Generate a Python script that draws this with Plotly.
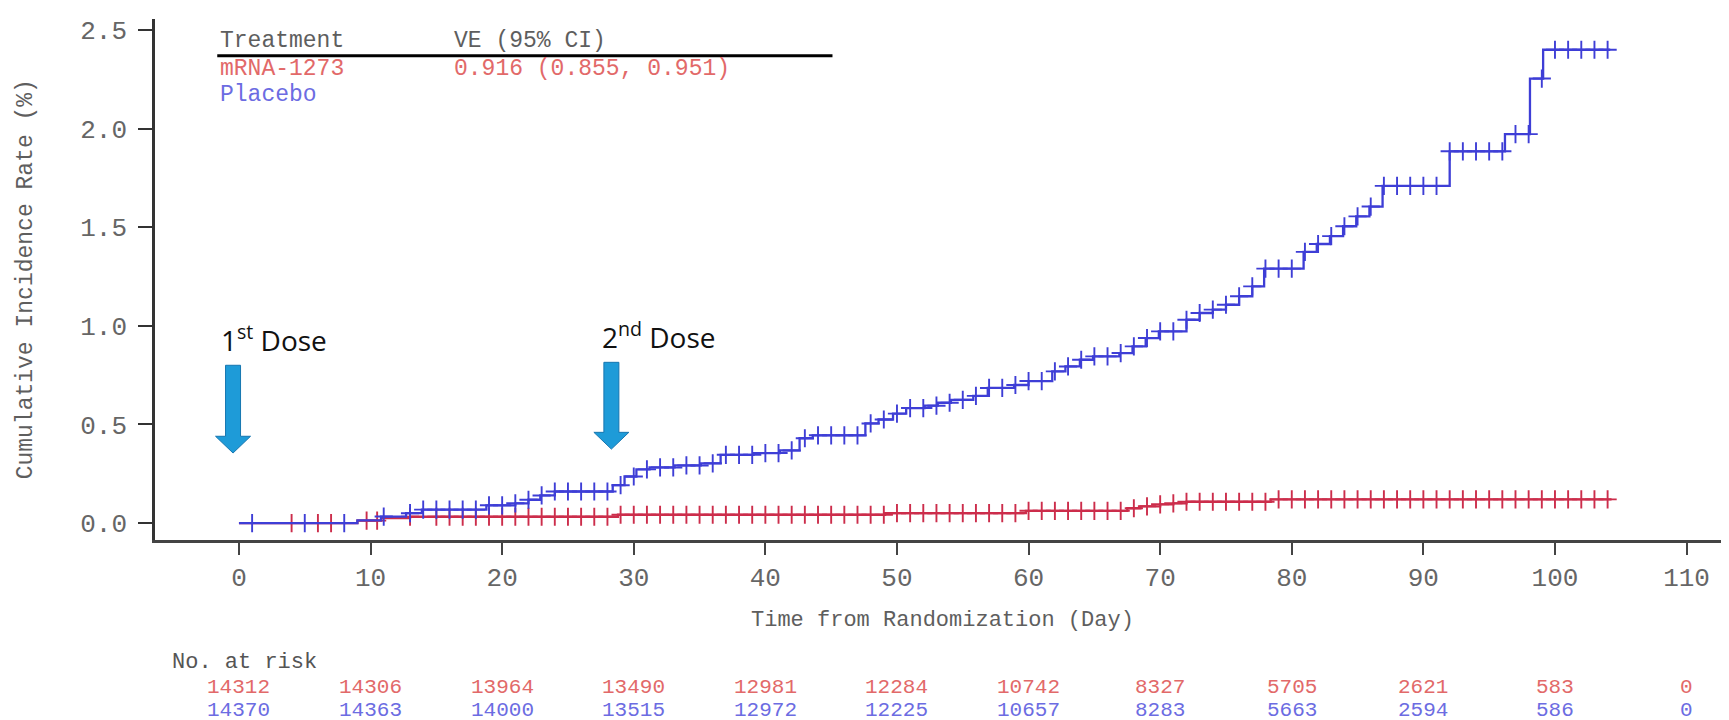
import bisect
import plotly.graph_objects as go

# ---------------- data ----------------
placebo_step_day = [0, 9, 10.8, 12.7, 13.9, 18.8, 21, 22, 22.9, 24, 28.4, 29.3, 30.2, 31.2, 33.1,
                    35.1, 36.6, 39.1, 41.1, 42.6, 43.6, 47.6, 48.6, 49.7, 50.7, 52.1, 53.1, 54.1,
                    55.8, 56.9, 58.9, 60.0, 61.8, 62.8, 63.9, 64.9, 66.9, 67.9, 68.9, 69.9, 72.0,
                    73.0, 74.0, 75.0, 76.0, 77.0, 77.9, 80.9, 81.9, 82.9, 83.9, 84.9, 85.9, 86.9,
                    92.0, 96.2, 98.1, 99.1]
placebo_step_val = [0, 0.014, 0.033, 0.05, 0.068, 0.09, 0.10, 0.118, 0.14, 0.16, 0.192, 0.236,
                    0.272, 0.282, 0.292, 0.303, 0.346, 0.355, 0.368, 0.43, 0.445, 0.505, 0.525,
                    0.555, 0.583, 0.595, 0.61, 0.625, 0.645, 0.685, 0.70, 0.72, 0.769, 0.794,
                    0.828, 0.845, 0.862, 0.896, 0.938, 0.972, 1.031, 1.065, 1.082, 1.107, 1.15,
                    1.2, 1.29, 1.375, 1.415, 1.455, 1.505, 1.555, 1.605, 1.71, 1.885, 1.972,
                    2.254, 2.40]
placebo_last_day = 104.2

mrna_step_day = [0, 9, 10.8, 13, 28.8, 49.1, 59.8, 67.5, 68.5, 70, 71, 72, 78.4]
mrna_step_val = [0, 0.012, 0.025, 0.032, 0.042, 0.05, 0.062, 0.075, 0.085, 0.095, 0.10, 0.108, 0.12]
mrna_last_day = 104.3

placebo_censor_day = [1, 5, 8, 11, 13, 14, 15, 16, 17, 18, 19, 20, 21, 22, 23, 24, 25, 26, 27, 28,
                      29, 30, 31, 32, 33, 34, 35, 36, 37, 38, 39, 40, 41, 42, 43, 44, 45, 46, 47,
                      48, 49, 50, 51, 52, 53, 54, 55, 56, 57, 58, 59, 60, 61, 62, 63, 64, 65, 66,
                      67, 68, 69, 70, 71, 72, 73, 74, 75, 76, 77, 78, 79, 80, 81, 82, 83, 84, 85,
                      86, 87, 88, 89, 90, 91, 92, 93, 94, 95, 96, 97, 98, 99, 100, 101, 102, 103, 104]
mrna_censor_day = [4, 6, 7, 9.7, 10.5, 13, 15, 16, 17, 18, 19, 20, 21, 22, 23, 24, 25, 26, 27, 28,
                   29, 30, 31, 32, 33, 34, 35, 36, 37, 38, 39, 40, 41, 42, 43, 44, 45, 46, 47, 48,
                   49, 50, 51, 52, 53, 54, 55, 56, 57, 58, 59, 60, 61, 62, 63, 64, 65, 66, 67, 68,
                   69, 70, 71, 72, 73, 74, 75, 76, 77, 78, 79, 80, 81, 82, 83, 84, 85, 86, 87, 88,
                   89, 90, 91, 92, 93, 94, 95, 96, 97, 98, 99, 100, 101, 102, 103, 104]

risk_days = [0, 10, 20, 30, 40, 50, 60, 70, 80, 90, 100, 110]
mrna_at_risk = [14312, 14306, 13964, 13490, 12981, 12284, 10742, 8327, 5705, 2621, 583, 0]
placebo_at_risk = [14370, 14363, 14000, 13515, 12972, 12225, 10657, 8283, 5663, 2594, 586, 0]

x_ticks = [0, 10, 20, 30, 40, 50, 60, 70, 80, 90, 100, 110]
y_ticks = [0.0, 0.5, 1.0, 1.5, 2.0, 2.5]
y_tick_text = ["0.0", "0.5", "1.0", "1.5", "2.0", "2.5"]

treatments = ["mRNA-1273", "Placebo"]
ve_text = "0.916 (0.855, 0.951)"

dose_day = [-0.45, 28.3]
dose_label = ["1<sup>st</sup> Dose", "2<sup>nd</sup> Dose"]

# ---------------- styles ----------------
RED = "rgb(204,45,75)"
BLUE = "rgb(62,62,214)"
RED_TXT = "rgb(226,105,105)"
BLUE_TXT = "rgb(108,108,226)"
MONO = "Liberation Mono, Courier New, monospace"
GREY = "#5e5e5e"
ARROW_FILL = "#1e9bd8"
ARROW_EDGE = "#1676b0"


def step_value(days, vals, d):
    i = bisect.bisect_right(days, d) - 1
    return vals[max(i, 0)]


fig = go.Figure()

for days, vals, last, cens, col, name in [
    (mrna_step_day, mrna_step_val, mrna_last_day, mrna_censor_day, RED, treatments[0]),
    (placebo_step_day, placebo_step_val, placebo_last_day, placebo_censor_day, BLUE, treatments[1]),
]:
    fig.add_trace(go.Scatter(
        x=days + [last], y=vals + [vals[-1]], mode="lines",
        line=dict(color=col, width=2.3, shape="hv"), name=name, showlegend=False,
        hoverinfo="skip"))
    fig.add_trace(go.Scatter(
        x=cens, y=[step_value(days, vals, d) for d in cens], mode="markers",
        marker=dict(symbol="cross-thin", size=13, line=dict(color=col, width=1.9)),
        showlegend=False, hoverinfo="skip"))

# ---------------- dose arrows ----------------
px_per_day = 13.16
shaft_hw = 7.5 / px_per_day
head_hw = 17.5 / px_per_day
arrow_top = [0.80, 0.815]
arrow_head = [0.44, 0.46]
arrow_tip = [0.355, 0.375]
shapes = []
for d, top, hd, tip in zip(dose_day, arrow_top, arrow_head, arrow_tip):
    path = (f"M {d - shaft_hw} {top} L {d + shaft_hw} {top} L {d + shaft_hw} {hd} "
            f"L {d + head_hw} {hd} L {d} {tip} L {d - head_hw} {hd} L {d - shaft_hw} {hd} Z")
    shapes.append(dict(type="path", path=path, xref="x", yref="y",
                       fillcolor=ARROW_FILL, line=dict(color=ARROW_EDGE, width=1)))

label_y = [0.935, 0.95]
label_x = [-1.5, 27.4]
annotations = []
for lx, ly, t in zip(label_x, label_y, dose_label):
    annotations.append(dict(x=lx, y=ly, xref="x", yref="y", text=t, showarrow=False,
                            xanchor="left", yanchor="middle",
                            font=dict(family="Open Sans, Noto Sans, sans-serif", size=28,
                                      color="#111111")))

# ---------------- legend block ----------------
shapes.append(dict(type="line", xref="x", yref="y", x0=-1.65, x1=45.1, y0=2.37, y1=2.37,
                   line=dict(color="black", width=3)))
leg_font = dict(family=MONO, size=23)
annotations += [
    dict(x=-1.63, y=2.445, xref="x", yref="y", text="Treatment", showarrow=False,
         xanchor="left", yanchor="middle", font=dict(**leg_font, color=GREY)),
    dict(x=16.2, y=2.445, xref="x", yref="y", text="VE (95% CI)", showarrow=False,
         xanchor="left", yanchor="middle", font=dict(**leg_font, color=GREY)),
    dict(x=-1.63, y=2.3, xref="x", yref="y", text=treatments[0], showarrow=False,
         xanchor="left", yanchor="middle", font=dict(**leg_font, color=RED_TXT)),
    dict(x=16.2, y=2.3, xref="x", yref="y", text=ve_text, showarrow=False,
         xanchor="left", yanchor="middle", font=dict(**leg_font, color=RED_TXT)),
    dict(x=-1.63, y=2.17, xref="x", yref="y", text=treatments[1], showarrow=False,
         xanchor="left", yanchor="middle", font=dict(**leg_font, color=BLUE_TXT)),
]

# ---------------- axis titles ----------------
annotations.append(dict(x=0.5, y=-0.1536, xref="paper", yref="paper",
                        text="Time from Randomization (Day)", showarrow=False,
                        xanchor="center", yanchor="middle",
                        font=dict(family=MONO, size=22, color=GREY)))
annotations.append(dict(x=-0.082, y=0.5, xref="paper", yref="paper",
                        text="Cumulative Incidence Rate (%)", showarrow=False, textangle=-90,
                        xanchor="center", yanchor="middle",
                        font=dict(family=MONO, size=23, color=GREY)))

# ---------------- number at risk ----------------
annotations.append(dict(x=0.0095, y=-0.236, xref="paper", yref="paper", text="No. at risk",
                        showarrow=False, xanchor="left", yanchor="middle",
                        font=dict(family=MONO, size=22, color="#555555")))
for d, a, b in zip(risk_days, mrna_at_risk, placebo_at_risk):
    annotations.append(dict(x=d, y=-0.283, xref="x", yref="paper", text=str(a), showarrow=False,
                            xanchor="center", yanchor="middle",
                            font=dict(family=MONO, size=21, color=RED_TXT)))
    annotations.append(dict(x=d, y=-0.327, xref="x", yref="paper", text=str(b), showarrow=False,
                            xanchor="center", yanchor="middle",
                            font=dict(family=MONO, size=21, color=BLUE_TXT)))

fig.update_layout(
    width=1729, height=720,
    margin=dict(l=147, r=7, t=11, b=188),
    paper_bgcolor="white", plot_bgcolor="white",
    shapes=shapes, annotations=annotations, showlegend=False,
    xaxis=dict(range=[-6.38, 113.3], tickvals=x_ticks, ticks="outside", ticklen=12,
               tickwidth=1.8, tickcolor="#444", showline=True, linecolor="#444", linewidth=2.5,
               showgrid=False, zeroline=False, ticklabelstandoff=0,
               tickfont=dict(family=MONO, size=26, color="#666666")),
    yaxis=dict(range=[-0.086, 2.556], tickvals=y_ticks, ticktext=y_tick_text, ticks="outside",
               ticklen=14, tickwidth=1.8, tickcolor="#333", showline=True, linecolor="#333",
               linewidth=2.5, showgrid=False, zeroline=False, ticklabelstandoff=6,
               tickfont=dict(family=MONO, size=26, color="#666666")),
)

fig.write_html("out.html")
